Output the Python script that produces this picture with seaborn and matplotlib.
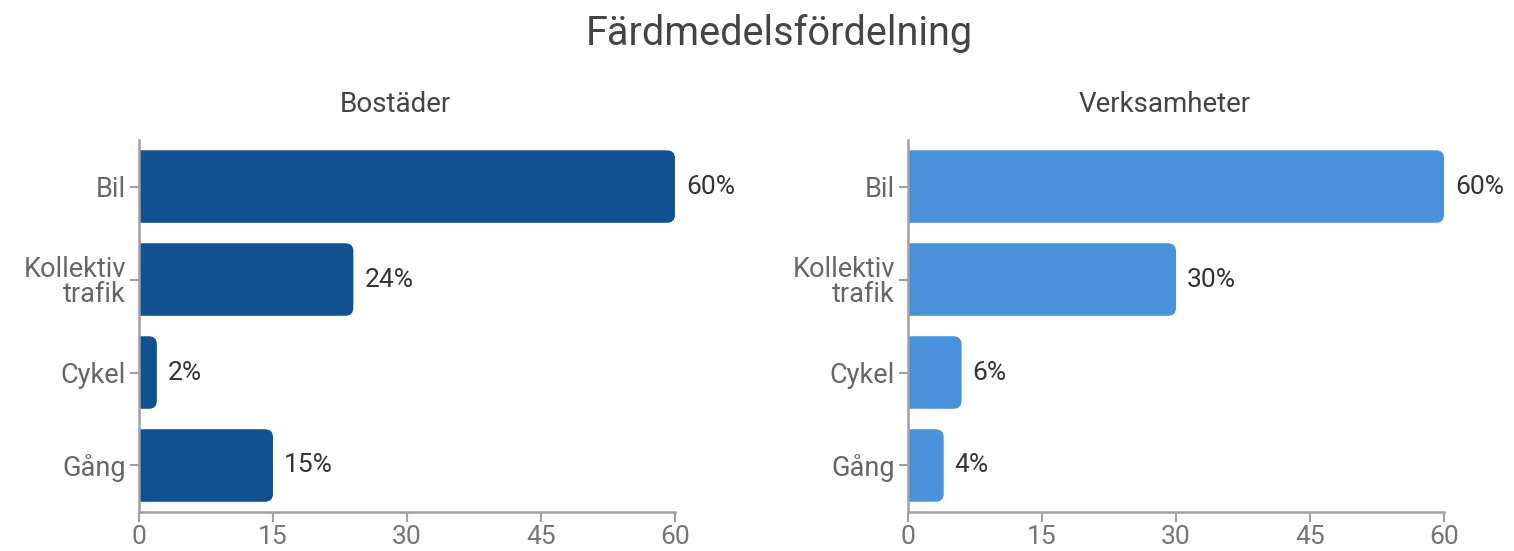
import matplotlib
matplotlib.use("Agg")
import matplotlib.pyplot as plt
import seaborn as sns
import pandas as pd
from matplotlib.patches import FancyBboxPatch

title = "Färdmedelsfördelning"
panels = ["Bostäder", "Verksamheter"]
categories = ["Bil", "Kollektiv\ntrafik", "Cykel", "Gång"]
bostader = [60, 24, 2, 15]
verksamheter = [60, 30, 6, 4]
xticks = [0, 15, 30, 45, 60]
colors = ["#115191", "#4A91DB"]

sns.set_theme(style="white")
plt.rcParams["font.family"] = ["Roboto", "DejaVu Sans"]

fig = plt.figure(figsize=(15.14, 5.51), dpi=100)
boxes = [[0.0918, 0.0708, 0.3540, 0.675], [0.5997, 0.0708, 0.3541, 0.675]]

for i, (vals, name) in enumerate(zip([bostader, verksamheter], panels)):
    ax = fig.add_axes(boxes[i])
    df = pd.DataFrame({"cat": categories, "val": vals})
    sns.barplot(data=df, x="val", y="cat", orient="h", color=colors[i],
                width=0.78, ax=ax, saturation=1)
    ax.set_xlim(0, 60)
    ax.set_ylim(3.5, -0.5)
    ax.set_xticks(xticks)
    ax.set_xticklabels([str(t) for t in xticks])
    ax.set_xlabel("")
    ax.set_ylabel("")
    r = 0.9
    for p in list(ax.patches):
        x, y = p.get_x(), p.get_y()
        w, h = p.get_width(), p.get_height()
        p.set_visible(False)
        fb = FancyBboxPatch((x - r, y), w + r, h,
                            boxstyle=f"round,pad=0,rounding_size={r}",
                            mutation_aspect=0.096, facecolor=colors[i],
                            edgecolor="none", clip_on=True)
        ax.add_patch(fb)
    ax.bar_label(ax.containers[0], labels=[f"{v}%" for v in vals],
                 padding=8, fontsize=19, color="#333333")
    for s in ["top", "right"]:
        ax.spines[s].set_visible(False)
    for s in ["left", "bottom"]:
        ax.spines[s].set_color("#a0a0a0")
        ax.spines[s].set_linewidth(1.8)
    ax.tick_params(axis="both", which="both", bottom=True, left=True,
                   width=1.5, color="#a0a0a0", direction="out")
    ax.tick_params(axis="x", length=7.5, labelsize=19, labelcolor="#757575", pad=2)
    ax.tick_params(axis="y", length=6.5, labelsize=19.5, labelcolor="#666666", pad=3)
    for lab in ax.get_yticklabels():
        lab.set_linespacing(0.95)
    ax.set_title(name, fontsize=20, color="#444444", pad=20, x=0.479)

fig.suptitle(title, fontsize=28.5, color="#444444", x=0.5145, y=0.975)
fig.savefig("out.png", dpi=100, facecolor="white")
